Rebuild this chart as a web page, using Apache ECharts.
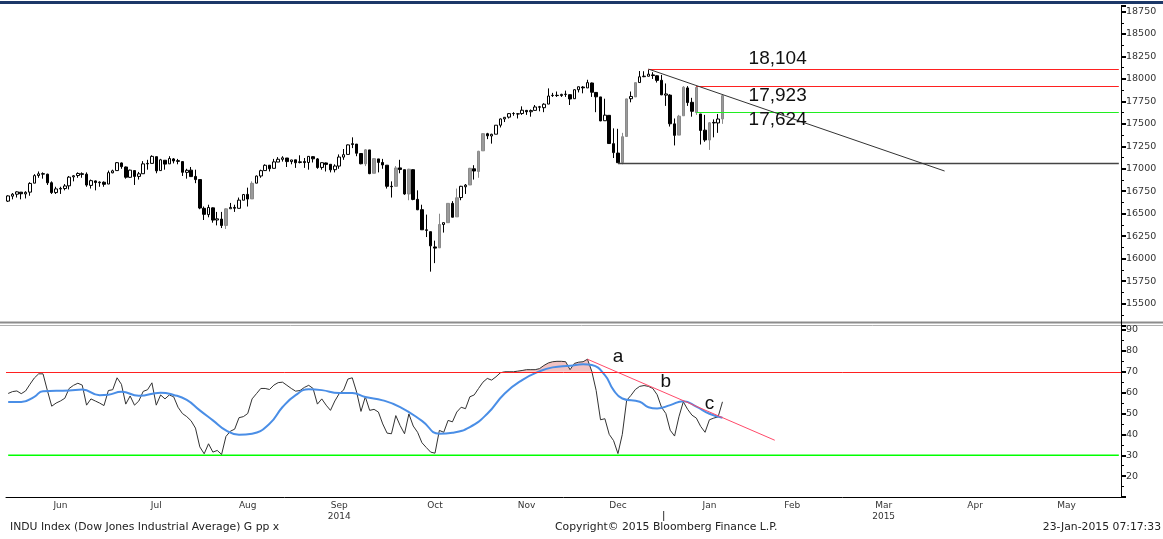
<!DOCTYPE html>
<html>
<head>
<meta charset="utf-8">
<script src="https://cdn.jsdelivr.net/npm/echarts@6/dist/echarts.min.js"></script>
<style>
  html, body { margin: 0; padding: 0; background: #fff; }
  #chart { width: 1163px; height: 539px; }
</style>
</head>
<body>
<div id="chart"></div>
<script>
// trading calendar: NYSE days from 29-May-2014, holidays dropped
var startDay = '2014-05-29';
var dayCount = 256;
var holidays = ['2014-07-04', '2014-09-01', '2014-11-27', '2014-12-25', '2015-01-01',
  '2015-01-19', '2015-02-16', '2015-04-03', '2015-05-25'];
var monthNames = ['Jan', 'Feb', 'Mar', 'Apr', 'May', 'Jun', 'Jul', 'Aug', 'Sep', 'Oct', 'Nov', 'Dec'];
var yearUnder = { '2014-09': '2014', '2015-03': '2015' };

// INDU daily candles [open, close, low, high]
var indu = [
  [16640,16698,16630,16705],[16695,16717,16660,16730],[16717,16743,16680,16750],[16740,16722,16660,16740],
  [16720,16738,16670,16750],[16740,16837,16700,16850],[16840,16924,16840,16940],[16925,16944,16900,16970],
  [16940,16946,16890,16960],[16940,16844,16820,16945],[16845,16735,16720,16860],[16735,16776,16720,16800],
  [16775,16782,16720,16800],[16780,16809,16760,16830],[16810,16907,16770,16920],[16910,16922,16860,16930],
  [16925,16948,16900,16960],[16945,16938,16900,16960],[16940,16819,16800,16960],[16815,16868,16780,16880],
  [16865,16847,16760,16870],[16845,16852,16800,16860],[16850,16827,16800,16860],[16830,16957,16830,16980],
  [16955,16977,16950,16990],[16980,17068,16980,17075],[17065,17024,17000,17070],[17020,16906,16890,17025],
  [16905,16985,16900,16990],[16980,16915,16820,16985],[16915,16944,16880,16965],[16945,17055,16945,17085],
  [17055,17060,16990,17100],[17060,17138,17060,17150],[17135,16977,16950,17135],[16980,17100,16980,17110],
  [17095,17052,16990,17095],[17055,17114,17055,17140],[17110,17087,17060,17120],[17090,17083,17050,17110],
  [17080,16961,16920,17080],[16960,16983,16890,17000],[16985,16913,16910,17020],[16915,16880,16840,16990],
  [16880,16563,16550,16880],[16560,16493,16430,16580],[16490,16569,16460,16600],[16565,16429,16400,16570],
  [16430,16443,16370,16520],[16440,16369,16340,16520],[16370,16554,16330,16560],[16555,16570,16555,16620],
  [16570,16561,16520,16600],[16560,16651,16560,16680],[16650,16713,16650,16720],[16715,16663,16580,16790],
  [16665,16838,16665,16860],[16840,16919,16840,16925],[16920,16979,16900,16990],[16980,17039,16980,17050],
  [17040,17001,16970,17040],[17005,17077,17005,17110],[17075,17106,17075,17130],[17105,17122,17080,17140],
  [17120,17080,17020,17120],[17080,17098,17050,17100],[17100,17067,17010,17100],[17070,17078,17060,17150],
  [17080,17069,17010,17120],[17070,17138,16990,17140],[17135,17111,17070,17140],[17110,17014,17000,17120],
  [17015,17068,16990,17070],[17065,17049,16970,17070],[17050,16988,16960,17050],[16990,17031,16960,17050],
  [17030,17131,17000,17160],[17130,17157,17100,17220],[17160,17266,17160,17270],[17270,17280,17230,17350],
  [17275,17173,17140,17275],[17170,17056,17050,17170],[17055,17211,17030,17220],[17210,16946,16940,17210],
  [16950,17113,16950,17120],[17110,17071,16960,17110],[17070,17043,17000,17110],[17040,16805,16780,17040],
  [16805,16801,16680,16860],[16805,17009,16805,17030],[17010,16992,16950,17100],[16990,16720,16710,16990],
  [16720,16995,16650,17000],[16990,16659,16650,16995],[16660,16544,16540,16760],[16545,16321,16320,16600],
  [16320,16315,16240,16490],[16300,16142,15855,16300],[16130,16117,15950,16200],[16120,16380,16120,16500],
  [16380,16400,16290,16400],[16400,16615,16400,16615],[16615,16461,16460,16640],[16465,16677,16465,16780],
  [16680,16805,16650,16810],[16800,16818,16720,16830],[16820,17005,16820,17010],[17000,16975,16880,17040],
  [16970,17195,16900,17200],[17200,17391,17200,17395],[17390,17367,17330,17400],[17365,17384,17280,17390],
  [17385,17485,17385,17485],[17485,17555,17460,17560],[17555,17573,17520,17575],[17575,17614,17560,17620],
  [17615,17615,17590,17630],[17610,17612,17560,17620],[17615,17652,17600,17695],[17650,17635,17600,17655],
  [17635,17648,17580,17660],[17650,17688,17650,17710],[17690,17686,17640,17700],[17680,17719,17630,17730],
  [17720,17810,17720,17895],[17815,17818,17800,17845],[17818,17815,17800,17860],[17815,17828,17800,17835],
  [17830,17828,17800,17870],[17825,17777,17710,17825],[17780,17880,17780,17885],[17880,17913,17850,17915],
  [17910,17901,17840,17920],[17900,17959,17900,17991],[17955,17852,17800,17960],[17850,17801,17630,17805],
  [17800,17533,17530,17800],[17535,17597,17535,17780],[17595,17281,17280,17595],[17280,17180,17120,17450],
  [17175,17068,17067,17445],[17070,17357,17050,17400],[17360,17778,17360,17780],[17780,17805,17740,17860],
  [17800,17959,17800,17960],[17960,18024,17960,18088],[18025,18031,18020,18086],[18030,18053,18030,18104],
  [18045,18038,18000,18075],[18035,17984,17960,18040],[17985,17823,17820,18045],[17820,17833,17700,17950],
  [17820,17501,17470,17830],[17500,17372,17260,17560],[17375,17585,17375,17600],[17590,17908,17590,17920],
  [17900,17737,17700,17920],[17740,17640,17580,17790],[17626,17905,17600,17923],[17610,17427,17270,17610],
  [17430,17321,17300,17600],[17320,17512,17210,17520],[17510,17516,17350,17550],[17510,17554,17400,17610],
  [17555,17814,17500,17830]
];

// RSI (black) per trading day
var rsi = [
  59.6,60.5,60.8,59.5,60.8,64,67,69,69,61,
  53.5,55,56,57.3,62,63.5,64.5,63.6,54,57,
  56,55,53.8,61,61.4,67.1,64,54.5,58.4,54,
  56,60.6,61.4,64.7,54,58.9,57,58.9,58,53,
  50,48.5,46.5,43,34,30.7,35.5,31.5,32.3,30.4,
  39,41.5,42.5,48,48.5,50,57,59.5,62,62,
  61.5,63.6,64.8,65,63.5,62,60.7,61,62.5,63.5,
  62,54.5,57,54,51.5,56,59.5,61.2,66.5,67.1,
  60.3,51,58,51.5,52,50.7,45,40.6,40.3,49,
  44.2,40.3,49.8,44,41,36,33.7,31.5,31,41.9,
  41,46.7,46,50.7,53,52.3,58,58.9,62,65,
  66.8,66,67.6,69.5,70,70,70,70.3,70.6,71,
  71,71,71.5,73,74.2,74.8,75,75,74.8,71,
  74,74.6,74.8,76,70.2,61,47,47.5,40,37,
  30.8,40,56.3,58.7,61.5,63,63.4,63,62,59,
  53,50,42,39.2,48.4,55.6,52,49.2,47.8,43.8,
  41,47,47.8,48.4,55.6
];

// RSI moving average (blue), read at these trading-day positions
var maIdx = [0,3,6,8,14,17,21,23,26,30,35,38,41,44,47,50,53,56,60,63,66,69,72,76,79,82,86,90,95,99,
  102,106,110,114,118,122,125,129,132,134,137,139,141,145,147,149,152,155,158,161,164];
var maVal = [55.5,55.5,58,60.7,61,61.5,58.8,59,60.4,58.5,60,58.9,56.5,51.5,46.7,41.9,39.8,40.3,45.1,53.1,
  58.8,61.6,61.2,59.8,59.8,57.9,56.3,53.1,46.5,40.3,40.8,43.5,49.9,59.6,66,70.2,72.1,72.9,73.6,73.2,
  68.4,61.2,57.2,55.6,53,52.4,54,55.9,53.3,49.9,48];

// levels drawn on the chart
var levelHigh = 18104, levelMid = 17923, levelGreen = 17624, levelLow = 17067;
var rsiTop = 70, rsiBottom = 30;

// ---------- build ----------
var cats = [];
var d = new Date(startDay + 'T00:00:00Z');
while (cats.length < dayCount) {
  var s = d.toISOString().slice(0, 10);
  var wd = d.getUTCDay();
  if (wd !== 0 && wd !== 6 && holidays.indexOf(s) < 0) cats.push(s);
  d.setUTCDate(d.getUTCDate() + 1);
}

var monthFirst = {}, monthLast = {};
cats.forEach(function (c, i) {
  var m = c.slice(0, 7);
  if (monthFirst[m] === undefined) monthFirst[m] = i;
  monthLast[m] = i;
});
var labelAt = {};
Object.keys(monthFirst).forEach(function (m) {
  if (monthLast[m] - monthFirst[m] >= 9) labelAt[Math.round((monthFirst[m] + monthLast[m]) / 2)] = true;
});
function isMonthStart(i) {
  return i > 0 && cats[i].slice(0, 7) !== cats[i - 1].slice(0, 7);
}

var candleData = indu.map(function (r) {
  var st;
  if (r[1] < r[0]) st = { color: '#000', color0: '#000', borderColor: '#000', borderColor0: '#000' };
  else if (r[1] - r[0] >= 150) st = { color: '#9a9a9a', color0: '#9a9a9a', borderColor: '#8a8a8a', borderColor0: '#8a8a8a' };
  else st = { color: '#fff', color0: '#fff', borderColor: '#000', borderColor0: '#000' };
  return { value: r, itemStyle: st };
});

var maData = rsi.map(function () { return null; });
maIdx.forEach(function (k, j) { maData[k] = maVal[j]; });
var base70 = rsi.map(function () { return rsiTop; });
var over70 = rsi.map(function (v) { return v > rsiTop ? +(v - rsiTop).toFixed(1) : 0; });
var line30 = cats.map(function () { return rsiBottom; });

var lastIdx = dayCount - 1;
var txtFont = 'DejaVu Sans';
var bigFont = 'Liberation Sans';

function hline(v, from, color, w) {
  return [{ coord: [from, v], lineStyle: { color: color, width: w || 1, type: 'solid' } }, { coord: [lastIdx, v] }];
}
function bigLabel(idx, v, text) {
  return {
    coord: [idx, v], symbol: 'rect', symbolSize: 0,
    label: { show: true, formatter: text, position: 'right', distance: 0,
      fontFamily: bigFont, fontSize: 19, color: '#111' }
  };
}
function letter(idx, v, text) {
  return {
    coord: [idx, v], symbol: 'rect', symbolSize: 0,
    label: { show: true, formatter: text, position: 'inside',
      fontFamily: bigFont, fontSize: 19, color: '#111' }
  };
}

var yLabel = {
  fontFamily: txtFont, fontSize: 9.5, color: '#333', margin: 5,
  formatter: function (v) { return String(v); }
};
var footFont = '10.8px "DejaVu Sans"';

var chart = echarts.init(document.getElementById('chart'), null, { renderer: 'canvas' });
var option = {
  animation: false,
  backgroundColor: '#fff',
  grid: [
    { left: 6, right: 42, top: 6, height: 320 },
    { left: 6, right: 42, top: 326, height: 171 }
  ],
  xAxis: [
    { type: 'category', gridIndex: 0, data: cats, show: false },
    {
      type: 'category', gridIndex: 1, data: cats,
      axisLine: { lineStyle: { color: '#000', width: 1 } },
      axisTick: { interval: function (i) { return isMonthStart(i); }, length: 4, lineStyle: { color: '#000' } },
      axisLabel: {
        interval: function (i) { return !!labelAt[i]; },
        fontFamily: txtFont, fontSize: 9, color: '#333', margin: 3, lineHeight: 11,
        formatter: function (v) {
          var m = monthNames[+v.slice(5, 7) - 1];
          var y = yearUnder[v.slice(0, 7)];
          return y ? m + '\n' + y : m;
        }
      },
      splitLine: { show: false }
    }
  ],
  yAxis: [
    {
      type: 'value', gridIndex: 0, position: 'right', min: 15250, max: 18812, interval: 250,
      axisLine: { show: true, lineStyle: { color: '#000' } },
      axisTick: { show: true, length: 5, lineStyle: { color: '#000', width: 2 } },
      minorTick: { show: true, splitNumber: 2, length: 3, lineStyle: { color: '#000' } },
      axisLabel: Object.assign({ showMinLabel: false, showMaxLabel: false }, yLabel),
      splitLine: { show: false }
    },
    {
      type: 'value', gridIndex: 1, position: 'right', min: 10, max: 91.92, interval: 10,
      axisLine: { show: true, lineStyle: { color: '#000' } },
      axisTick: { show: true, length: 5, lineStyle: { color: '#000', width: 2 } },
      minorTick: { show: true, splitNumber: 2, length: 3, lineStyle: { color: '#000' } },
      axisLabel: Object.assign({ showMinLabel: false, showMaxLabel: false }, yLabel),
      splitLine: { show: false }
    }
  ],
  series: [
    {
      name: 'INDU', type: 'candlestick', xAxisIndex: 0, yAxisIndex: 0,
      data: candleData, barWidth: 3,
      markLine: {
        silent: true, symbol: ['none', 'none'], label: { show: false },
        data: [
          hline(levelHigh, 147, '#ff2020'),
          hline(levelMid, 158, '#ff2020'),
          hline(levelGreen, 158, '#20ee20'),
          hline(levelLow, 140, '#444', 1.3),
          [{ coord: [147, 18110], lineStyle: { color: '#333', width: 1, type: 'solid' } }, { coord: [215, 16975] }]
        ]
      },
      markPoint: {
        silent: true,
        data: [
          bigLabel(170, 18222, '18,104'),
          bigLabel(170, 17810, '17,923'),
          bigLabel(170, 17543, '17,624')
        ]
      }
    },
    {
      name: 'oversold', type: 'line', xAxisIndex: 1, yAxisIndex: 1,
      data: line30, symbol: 'none', silent: true,
      lineStyle: { color: '#00ff00', width: 1.5 }, itemStyle: { color: '#00ff00' }
    },
    {
      name: 'base', type: 'line', xAxisIndex: 1, yAxisIndex: 1, stack: 'ob',
      data: base70, symbol: 'none', lineStyle: { width: 0 }, silent: true
    },
    {
      name: 'over', type: 'line', xAxisIndex: 1, yAxisIndex: 1, stack: 'ob',
      data: over70, symbol: 'none', lineStyle: { width: 0 },
      areaStyle: { color: '#f2c2c2', opacity: 1 }, silent: true
    },
    {
      name: 'RSI', type: 'line', xAxisIndex: 1, yAxisIndex: 1,
      data: rsi, symbol: 'none', lineStyle: { color: '#333', width: 1 },
      markLine: {
        silent: true, symbol: ['none', 'none'], label: { show: false },
        data: [
          [{ coord: [0, rsiTop], x: 6, lineStyle: { color: '#ff2020', width: 1, type: 'solid' } }, { coord: [lastIdx, rsiTop], x: 1121 }],
          [{ coord: [133, 76], lineStyle: { color: '#ff4a6a', width: 1, type: 'solid' } }, { coord: [176, 37.2] }]
        ]
      },
      markPoint: {
        silent: true,
        data: [letter(140, 77.1, 'a'), letter(151, 65.1, 'b'), letter(161, 54.5, 'c')]
      }
    },
    {
      name: 'RSI MA', type: 'line', xAxisIndex: 1, yAxisIndex: 1,
      data: maData, connectNulls: true, smooth: 0.5, symbol: 'none',
      lineStyle: { color: '#4a8ee6', width: 2 }
    }
  ],
  graphic: [
    { id: 'topbar', type: 'rect', shape: { x: 0, y: 1, width: 1163, height: 3 }, style: { fill: '#1c3868' }, silent: true },
    { id: 'div1', type: 'line', shape: { x1: 0, y1: 322.5, x2: 1163, y2: 322.5 }, style: { stroke: '#8c8c8c', lineWidth: 2 }, silent: true },
    { id: 'div2', type: 'line', shape: { x1: 0, y1: 325.5, x2: 1163, y2: 325.5 }, style: { stroke: '#b0b0b0', lineWidth: 1 }, silent: true },
    { id: 'f1', type: 'text', left: 10, top: 522, style: { text: 'INDU Index (Dow Jones Industrial Average) G pp x', font: footFont, fill: '#222' }, silent: true },
    { id: 'f2', type: 'text', left: 555, top: 522, style: { text: 'Copyright\u00a9 2015 Bloomberg Finance L.P.', font: footFont, fill: '#222' }, silent: true },
    { id: 'f3', type: 'text', right: 2, top: 522, style: { text: '23-Jan-2015 07:17:33', font: footFont, fill: '#222' }, silent: true }
  ]
};
chart.setOption(option);

// year-change marker under the January tick
var janIdx = monthFirst['2015-01'];
var band = 1115 / dayCount;
var janX = chart.convertToPixel({ xAxisIndex: 1 }, cats[janIdx]) - band / 2;
chart.setOption({
  graphic: [{ id: 'yearMark', type: 'line', shape: { x1: janX, y1: 511, x2: janX, y2: 521 }, style: { stroke: '#333', lineWidth: 1 }, silent: true }]
});
</script>
</body>
</html>
